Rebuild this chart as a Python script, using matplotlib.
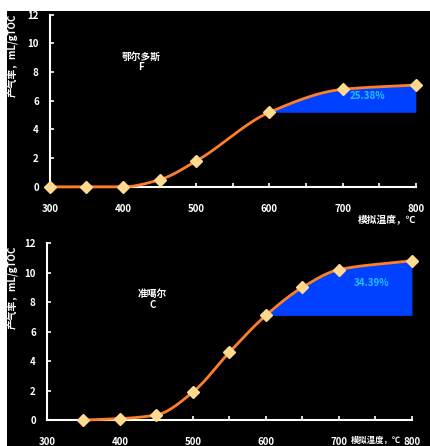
import matplotlib
matplotlib.use("Agg")
import matplotlib.pyplot as plt
import numpy as np
from matplotlib.patches import Rectangle

plt.rcParams['font.family'] = ['Noto Sans CJK SC', 'DejaVu Sans']

# data
temp_top = [300, 350, 400, 450, 500, 600, 700, 800]
gas_top = [0, 0, 0, 0.5, 1.8, 5.2, 6.8, 7.1]
temp_bot = [350, 400, 450, 500, 550, 600, 650, 700, 800]
gas_bot = [0, 0.1, 0.35, 1.9, 4.6, 7.1, 9.0, 10.2, 10.8]
names = ['鄂尔多斯\nF', '准噶尔\nC']
shares = ['25.38%', '34.39%']
ylab = '产气率，mL/gTOC'
xlab = '模拟温度，℃'

LINE = '#ff7f27'
MARK = '#ffd98f'
FILL = '#0040ff'
TXT = '#22c0ff'


def smooth(x, y, n=40):
    # monotone cubic (pchip) only for drawing the curve through the points
    x = np.asarray(x, float)
    y = np.asarray(y, float)
    h = np.diff(x)
    d = np.diff(y) / h
    m = np.zeros_like(y)
    for i in range(1, len(x) - 1):
        if d[i - 1] * d[i] > 0:
            w1 = 2 * h[i] + h[i - 1]
            w2 = h[i] + 2 * h[i - 1]
            m[i] = (w1 + w2) / (w1 / d[i - 1] + w2 / d[i])
    m[0] = d[0]
    m[-1] = d[-1]
    xs, ys = [], []
    t = np.linspace(0, 1, n)
    for i in range(len(x) - 1):
        h00 = 2 * t ** 3 - 3 * t ** 2 + 1
        h10 = t ** 3 - 2 * t ** 2 + t
        h01 = -2 * t ** 3 + 3 * t ** 2
        h11 = t ** 3 - t ** 2
        xs.extend(x[i] + t * h[i])
        ys.extend(h00 * y[i] + h10 * h[i] * m[i] + h01 * y[i + 1] + h11 * h[i] * m[i + 1])
    return np.array(xs), np.array(ys)


fig = plt.figure(figsize=(4.3, 4.46), dpi=100, facecolor='white')
fig.patches.append(Rectangle((7 / 430, 0), 1, 1 - 11 / 446, transform=fig.transFigure,
                             facecolor='black', edgecolor='none', zorder=-10))

boxes = [[0.116, 0.581, 0.851, 0.386], [0.109, 0.058, 0.849, 0.397]]
sets = [(temp_top, gas_top), (temp_bot, gas_bot)]
name_pos = [(425, 8.7), (445, 8.2)]
share_pos = [(734, 6.3), (744, 9.3)]

for k, (box, (tx, gy)) in enumerate(zip(boxes, sets)):
    ax = fig.add_axes(box)
    ax.set_facecolor('black')
    sx, sy = smooth(tx, gy)
    # shaded share above the 600 degree level
    i600 = tx.index(600)
    m = sx >= 600
    ax.fill_between(sx[m], gy[i600], sy[m], color=FILL, zorder=2, lw=0)
    ax.plot(sx, sy, color=LINE, lw=2, zorder=3, clip_on=False)
    ax.plot(tx, gy, ls='none', marker='D', ms=6, color=MARK, zorder=4, clip_on=False)
    ax.text(share_pos[k][0], share_pos[k][1], shares[k], color=TXT, fontsize=7,
            ha='center', va='center', fontweight='bold', zorder=5)
    ax.text(name_pos[k][0], name_pos[k][1], names[k], color='white', fontsize=7,
            ha='center', va='center', fontweight='bold', linespacing=1.1)

    ax.set_xlim(300, 800)
    ax.set_ylim(0, 12)
    ax.set_xticks(np.arange(300, 801, 50))
    ax.set_xticklabels([str(v) if v % 100 == 0 else '' for v in range(300, 801, 50)])
    ax.set_yticks(np.arange(0, 13, 2))
    for s in ['top', 'right']:
        ax.spines[s].set_visible(False)
    for s in ['left', 'bottom']:
        ax.spines[s].set_color('white')
        ax.spines[s].set_linewidth(1.5)
    ax.tick_params(colors='white', direction='in', length=3, width=1.2,
                   labelsize=7)
    ax.tick_params(axis='x', pad=12)
    ax.tick_params(axis='y', pad=8)
    for lb in ax.get_xticklabels() + ax.get_yticklabels():
        lb.set_fontweight('bold')

# axis titles
fig.text(0.028, 0.875, ylab, rotation=90, color='white', fontsize=7,
         fontweight='bold', ha='center', va='center')
fig.text(0.028, 0.355, ylab, rotation=90, color='white', fontsize=7,
         fontweight='bold', ha='center', va='center')
fig.text(0.9, 0.507, xlab, color='white', fontsize=7, fontweight='bold',
         ha='center', va='center')
fig.text(0.875, 0.012, xlab, color='white', fontsize=6, fontweight='bold',
         ha='center', va='center')

fig.savefig('out.png', dpi=100, facecolor='white')
